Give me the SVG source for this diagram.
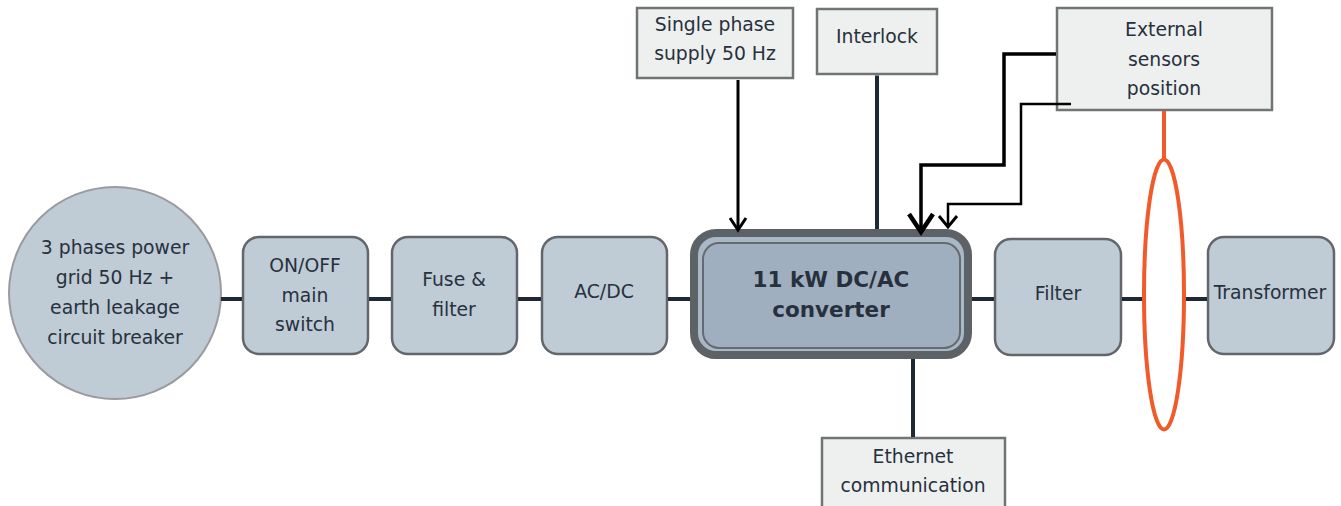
<svg xmlns="http://www.w3.org/2000/svg" width="1341" height="506" viewBox="0 0 1341 506">
<style>
.t{font-family:"DejaVu Sans","Liberation Sans",sans-serif;font-size:18.8px;fill:#27313d;text-anchor:middle}
.tb{font-family:"DejaVu Sans","Liberation Sans",sans-serif;font-size:21.5px;font-weight:bold;fill:#27313d;text-anchor:middle}
.node{fill:#bfcbd5;stroke:#63676b;stroke-width:2.5}
.box{fill:#eef0ef;stroke:#707476;stroke-width:2.5}
.bus{stroke:#1e2935;stroke-width:4;fill:none}
.sig{stroke:#000;fill:none;stroke-linejoin:miter}
.ora{stroke:#f15a29;stroke-width:4;fill:none}
</style>
<defs>
<marker id="a1" markerUnits="userSpaceOnUse" orient="auto" refX="0" refY="0" overflow="visible" markerWidth="1" markerHeight="1"><path d="M-12,-8 L0,0 L-12,8" fill="none" stroke="#000" stroke-width="3"/></marker>
<marker id="a2" markerUnits="userSpaceOnUse" orient="auto" refX="0" refY="0" overflow="visible" markerWidth="1" markerHeight="1"><path d="M-18,-12 L0,0 L-18,12" fill="none" stroke="#000" stroke-width="4.5"/></marker>
<marker id="a3" markerUnits="userSpaceOnUse" orient="auto" refX="0" refY="0" overflow="visible" markerWidth="1" markerHeight="1"><path d="M-11,-9 L0,0 L-11,9" fill="none" stroke="#000" stroke-width="3"/></marker>
</defs>
<rect width="1341" height="506" fill="#fff"/>
<g id="grid">
<circle cx="115" cy="293" r="106" fill="#bfcbd5" stroke="#9a9a9f" stroke-width="2"/>
<text class="t" x="115" y="254">3 phases power</text>
<text class="t" x="115" y="284">grid 50 Hz +</text>
<text class="t" x="115" y="314">earth leakage</text>
<text class="t" x="115" y="344">circuit breaker</text>
</g>
<g id="switch">
<rect class="node" x="243" y="237" width="125" height="117" rx="16"/>
<text class="t" x="305" y="272">ON/OFF</text>
<text class="t" x="305" y="302">main</text>
<text class="t" x="305" y="331">switch</text>
</g>
<g id="fuse">
<rect class="node" x="392" y="237" width="125" height="117" rx="16"/>
<text class="t" x="454" y="286">Fuse &amp;</text>
<text class="t" x="454" y="316">filter</text>
</g>
<g id="acdc">
<rect class="node" x="542" y="237" width="125" height="117" rx="16"/>
<text class="t" x="604" y="298">AC/DC</text>
</g>
<g id="converter">
<rect x="694" y="233" width="274" height="122" rx="22" fill="#a9b8c6" stroke="#5d6266" stroke-width="8"/>
<rect x="703" y="243" width="257" height="105" rx="16" fill="#9fafc0" stroke="#66696d" stroke-width="2"/>
<text class="tb" x="831" y="287">11 kW DC/AC</text>
<text class="tb" x="831" y="317">converter</text>
</g>
<g id="filter">
<rect class="node" x="995" y="239" width="126" height="116" rx="16"/>
<text class="t" x="1058" y="300">Filter</text>
</g>
<g id="transformer">
<rect class="node" x="1208" y="237" width="126" height="117" rx="16"/>
<text class="t" x="1270" y="299">Transformer</text>
</g>
<g id="single-phase">
<rect class="box" x="637" y="8" width="156" height="70"/>
<text class="t" x="715" y="31">Single phase</text>
<text class="t" x="715" y="60">supply 50 Hz</text>
</g>
<g id="interlock">
<rect class="box" x="817" y="9" width="120" height="65"/>
<text class="t" x="877" y="43">Interlock</text>
</g>
<g id="sensors">
<rect class="box" x="1057" y="8" width="215" height="102"/>
<text class="t" x="1164" y="36">External</text>
<text class="t" x="1164" y="66">sensors</text>
<text class="t" x="1164" y="95">position</text>
</g>
<g id="ethernet">
<rect class="box" x="822" y="438" width="183" height="80"/>
<text class="t" x="913" y="463">Ethernet</text>
<text class="t" x="913" y="492">communication</text>
</g>
<g id="connectors">
<line class="bus" x1="221" y1="299" x2="242" y2="299"/>
<line class="bus" x1="369" y1="299" x2="391" y2="299"/>
<line class="bus" x1="518" y1="299" x2="541" y2="299"/>
<line class="bus" x1="668" y1="299" x2="690" y2="299"/>
<line class="bus" x1="972" y1="299" x2="994" y2="299"/>
<line class="bus" x1="1122" y1="299" x2="1144" y2="299"/>
<line class="bus" x1="1184" y1="299" x2="1207" y2="299"/>
<line class="bus" x1="877" y1="75.5" x2="877" y2="229"/>
<line class="bus" x1="913" y1="359" x2="913" y2="437"/>
<line class="sig" x1="738" y1="80" x2="738" y2="230" stroke-width="3" marker-end="url(#a1)"/>
<path class="sig" d="M1056,54 H1004 V165 H921 V232" stroke-width="3.5" marker-end="url(#a2)"/>
<path class="sig" d="M1071,104 H1021 V204 H948 V227" stroke-width="2.5" marker-end="url(#a3)"/>
<line class="ora" x1="1164" y1="111" x2="1164" y2="160"/>
<ellipse class="ora" cx="1164" cy="294.5" rx="20" ry="135"/>
</g>
</svg>
